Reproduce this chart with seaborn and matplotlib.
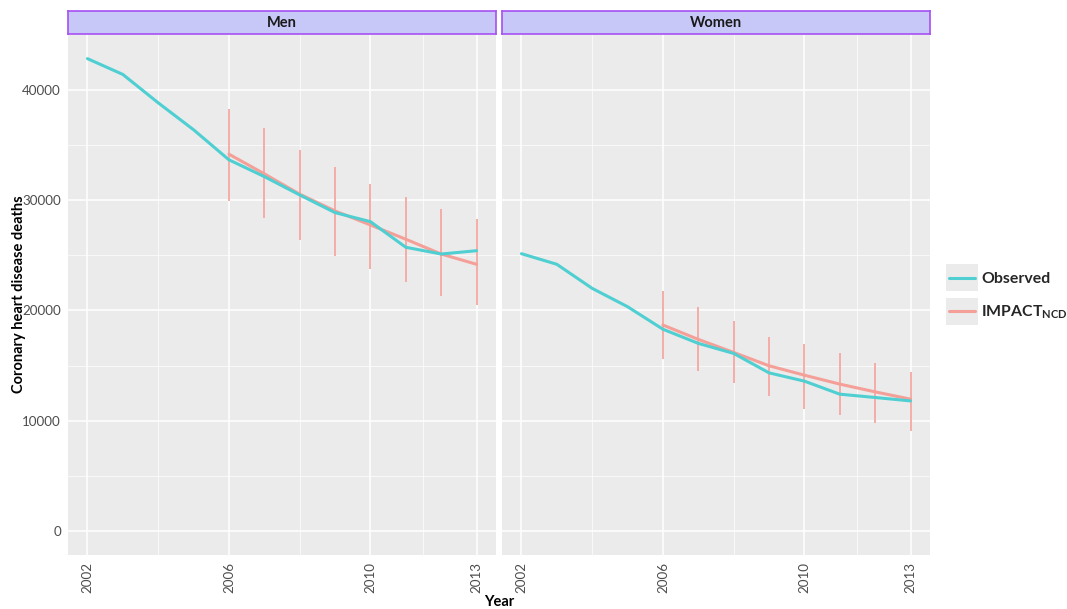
import numpy as np
import pandas as pd
import matplotlib
matplotlib.use("Agg")
import matplotlib.pyplot as plt
from matplotlib.legend_handler import HandlerBase
from matplotlib.patches import Rectangle
from matplotlib.lines import Line2D
from matplotlib.ticker import FixedLocator
import seaborn as sns

# ---- data -------------------------------------------------------------
years_obs = [2002, 2003, 2004, 2005, 2006, 2007, 2008, 2009, 2010, 2011, 2012, 2013]
years_model = [2006, 2007, 2008, 2009, 2010, 2011, 2012, 2013]

men_observed = [42800, 41370, 38800, 36360, 33640, 32120, 30460, 28860, 28040, 25720, 25110, 25410]
men_impact = [34150, 32370, 30530, 29010, 27740, 26450, 25110, 24180]
men_lower = [29920, 28400, 26380, 24930, 23780, 22550, 21330, 20490]
men_upper = [38260, 36540, 34540, 33030, 31430, 30310, 29220, 28290]

women_observed = [25140, 24180, 22000, 20340, 18300, 17020, 16110, 14350, 13600, 12420, 12120, 11810]
women_impact = [18680, 17380, 16200, 14990, 14140, 13330, 12630, 11970]
women_lower = [15620, 14530, 13390, 12270, 11120, 10520, 9820, 9090]
women_upper = [21760, 20280, 19070, 17620, 16930, 16170, 15200, 14440]

panels = ["Men", "Women"]
x_ticks = [2002, 2006, 2010, 2013]
y_ticks = [0, 10000, 20000, 30000, 40000]

panel_data = {
    "Men": (men_observed, men_impact, men_lower, men_upper),
    "Women": (women_observed, women_impact, women_lower, women_upper),
}

# ---- style ------------------------------------------------------------
sns.set_style("white")
plt.rcParams["font.family"] = ["Lato", "DejaVu Sans"]
plt.rcParams["mathtext.fontset"] = "custom"
plt.rcParams["mathtext.bf"] = "Lato:bold"
plt.rcParams["mathtext.rm"] = "Lato"

obs_color = "#4fcfd1"
imp_color = "#f4a099"
err_color = "#f5a7a1"
panel_bg = "#ebebeb"
palette = {"Observed": obs_color, "IMPACT": imp_color}

fig = plt.figure(figsize=(10.67, 6.09), dpi=100)

W, H = 1067.0, 609.0
panel_top, panel_bottom = 35, 555
strip_top, strip_bottom = 11, 34
lefts = [68, 502]
pw = 428

x_lo, x_hi = 2002 - 0.55, 2013 + 0.55
y_lo, y_hi = -2140, 44940

tick_size = 9.6
title_size = 10.5

for i, name in enumerate(panels):
    ax = fig.add_axes([lefts[i] / W, 1 - panel_bottom / H, pw / W, (panel_bottom - panel_top) / H])
    obs, imp, lo, hi = panel_data[name]

    df = pd.concat([
        pd.DataFrame({"Year": years_obs, "Deaths": obs, "Series": "Observed"}),
        pd.DataFrame({"Year": years_model, "Deaths": imp, "Series": "IMPACT"}),
    ], ignore_index=True)

    ax.set_facecolor(panel_bg)
    # uncertainty bars of the model
    ax.vlines(years_model, lo, hi, colors=err_color, linewidth=1.3, zorder=2)
    sns.lineplot(data=df, x="Year", y="Deaths", hue="Series", hue_order=["IMPACT", "Observed"],
                 palette=palette, linewidth=2.2, estimator=None, sort=True,
                 legend=False, ax=ax, zorder=3)

    ax.set_xlim(x_lo, x_hi)
    ax.set_ylim(y_lo, y_hi)
    ax.xaxis.set_major_locator(FixedLocator(x_ticks))
    ax.xaxis.set_minor_locator(FixedLocator([2004, 2008, 2011.5]))
    ax.yaxis.set_major_locator(FixedLocator(y_ticks))
    ax.yaxis.set_minor_locator(FixedLocator([5000, 15000, 25000, 35000]))
    ax.grid(which="major", color="white", linewidth=1.1)
    ax.grid(which="minor", color="white", linewidth=0.5)
    ax.set_axisbelow(True)
    for s in ax.spines.values():
        s.set_visible(False)
    ax.set_xlabel("")
    ax.set_ylabel("")
    ax.tick_params(axis="x", which="major", length=3, width=0.6, color="#333333",
                   labelsize=tick_size, labelcolor="#4d4d4d", labelrotation=90, pad=2)
    ax.tick_params(axis="y", which="major", length=3, width=0.6, color="#333333",
                   labelsize=tick_size, labelcolor="#4d4d4d", pad=2)
    ax.tick_params(which="minor", length=0)
    if i == 1:
        ax.tick_params(axis="y", length=0, labelleft=False)

    # facet strip
    strip = fig.add_axes([lefts[i] / W, 1 - strip_bottom / H, pw / W, (strip_bottom - strip_top) / H])
    strip.set_facecolor("#c8c8f8")
    strip.set_xticks([])
    strip.set_yticks([])
    for s in strip.spines.values():
        s.set_edgecolor("#a650f0")
        s.set_linewidth(1.2)
    strip.text(0.5, 0.48, name, ha="center", va="center", fontsize=title_size,
               fontweight="bold", color="#1a1a1a", transform=strip.transAxes)

fig.text(19 / W, 1 - 294 / H, "Coronary heart disease deaths", rotation=90,
         ha="center", va="center", fontsize=title_size, fontweight="bold", color="black")
fig.text(499 / W, 1 - 602 / H, "Year", ha="center", va="center",
         fontsize=title_size, fontweight="bold", color="black")


# legend keys drawn with a grey tile behind the line
class TileLineHandler(HandlerBase):
    def __init__(self, color):
        super().__init__()
        self.color = color

    def create_artists(self, legend, orig_handle, xdescent, ydescent, width, height, fontsize, trans):
        tile = Rectangle((-xdescent, -ydescent - 0.45 * height), width, height * 1.9,
                         facecolor="#ebebeb", edgecolor="none", transform=trans)
        y = -ydescent + 0.5 * height
        line = Line2D([-xdescent + 0.1 * width, -xdescent + 0.9 * width], [y, y],
                      color=self.color, linewidth=2.2, transform=trans)
        return [tile, line]


h_obs = Line2D([], [], color=obs_color)
h_imp = Line2D([], [], color=imp_color)
fig.legend([h_obs, h_imp], ["Observed", r"$\mathbf{IMPACT_{NCD}}$"],
           handler_map={h_obs: TileLineHandler(obs_color), h_imp: TileLineHandler(imp_color)},
           loc="center left", bbox_to_anchor=(946 / W, 1 - 296 / H), frameon=False,
           prop={"weight": "bold", "size": 11.4}, handlelength=2.0, handleheight=1.0,
           labelspacing=1.1, handletextpad=0.22, borderaxespad=0, borderpad=0)

fig.savefig("out.png", dpi=100, facecolor="white")
